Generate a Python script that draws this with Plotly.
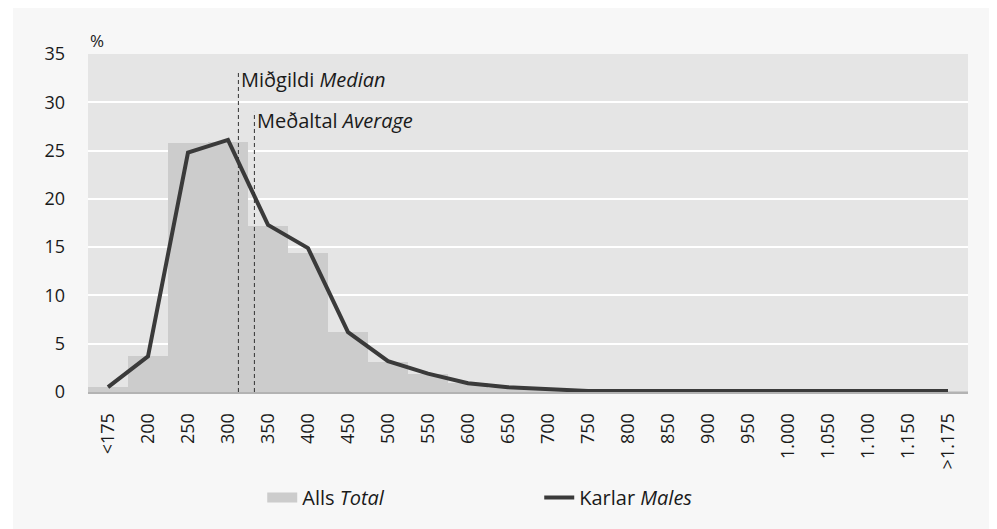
import plotly.graph_objects as go

# Income bands (thousand ISK), percentage distribution
bands = ["<175", "200", "250", "300", "350", "400", "450", "500", "550", "600",
         "650", "700", "750", "800", "850", "900", "950", "1.000", "1.050",
         "1.100", "1.150", ">1.175"]
total_pct = [0.5, 3.7, 25.8, 25.9, 17.2, 14.4, 6.2, 3.1, 1.9, 0.9,
             0.4, 0.2, 0.1, 0.05, 0.05, 0.03, 0.02, 0.02, 0.01, 0.01, 0.01, 0.05]
males_pct = [0.5, 3.7, 24.8, 26.1, 17.3, 14.9, 6.2, 3.2, 1.9, 0.9,
             0.5, 0.3, 0.1, 0.1, 0.1, 0.1, 0.1, 0.1, 0.1, 0.1, 0.1, 0.1]
median_val = 313
average_val = 333
median_top = 33.3
average_top = 29.0

FONT = "Open Sans"
TXT = "#1a1a1a"


def band_pos(v):
    # position on the category axis ("200" sits at index 1, 50 per step)
    return 1 + (v - 200) / 50


x = list(range(len(bands)))

fig = go.Figure()

fig.add_trace(
    go.Bar(
        x=x,
        y=total_pct,
        width=1,
        marker=dict(color="#cccccc", line_width=0),
        showlegend=False,
        name="Alls Total",
    )
)

# legend swatch for the bars (wide flat rectangle)
fig.add_trace(
    go.Scatter(
        x=[None],
        y=[None],
        mode="lines",
        line=dict(color="#cccccc", width=10),
        name="Alls <i>Total</i>",
    )
)

fig.add_trace(
    go.Scatter(
        x=x,
        y=males_pct,
        mode="lines",
        line=dict(color="#3a3a3a", width=4),
        name="Karlar <i>Males</i>",
    )
)

# Median / average markers
for val, top, label in [
    (median_val, median_top, "Miðgildi <i>Median</i>"),
    (average_val, average_top, "Meðaltal <i>Average</i>"),
]:
    fig.add_shape(
        type="line",
        x0=band_pos(val), x1=band_pos(val), y0=0, y1=top,
        xref="x", yref="y",
        line=dict(color="#333333", width=1, dash="4px,3px"),
    )
    fig.add_annotation(
        x=band_pos(val), y=top - 0.9,
        xref="x", yref="y",
        text=label, showarrow=False,
        xanchor="left", yanchor="middle", xshift=1,
        font=dict(family=FONT, size=20, color=TXT),
    )

# white strip on the left edge (page margin supplies the rest)
fig.add_shape(type="rect", xref="paper", yref="paper", x0=-1, x1=-0.0852, y0=-2, y1=2,
              fillcolor="white", line_width=0, layer="below")

fig.add_annotation(
    x=0, y=1.041, xref="paper", yref="paper",
    text="%", showarrow=False, xanchor="left", yanchor="middle",
    font=dict(family=FONT, size=17, color=TXT),
)

fig.update_layout(
    width=989,
    height=521,
    margin=dict(l=80, r=29, t=46, b=135),
    paper_bgcolor="#f7f7f7",
    plot_bgcolor="#e5e5e5",
    font=dict(family=FONT, size=18, color=TXT),
    bargap=0,
    legend=dict(
        orientation="h",
        x=0.198, xanchor="left",
        y=-0.312, yanchor="middle",
        entrywidth=232,
        font=dict(family=FONT, size=20, color=TXT),
        bgcolor="rgba(0,0,0,0)",
    ),
    xaxis=dict(
        range=[-0.5, len(bands) - 0.5],
        tickvals=x,
        ticktext=bands,
        tickangle=-90,
        showgrid=False,
        zeroline=False,
        showline=True,
        linecolor="#b3b3b3",
        linewidth=2,
        ticks="",
        ticklabelstandoff=12,
        tickfont=dict(family=FONT, size=18, color=TXT),
    ),
    yaxis=dict(
        range=[0, 35],
        tickvals=[0, 5, 10, 15, 20, 25, 30, 35],
        showgrid=True,
        gridcolor="white",
        gridwidth=2,
        zeroline=False,
        ticks="",
        ticklabelstandoff=22,
        tickfont=dict(family=FONT, size=18, color=TXT),
    ),
)

fig.write_html("out.html")
